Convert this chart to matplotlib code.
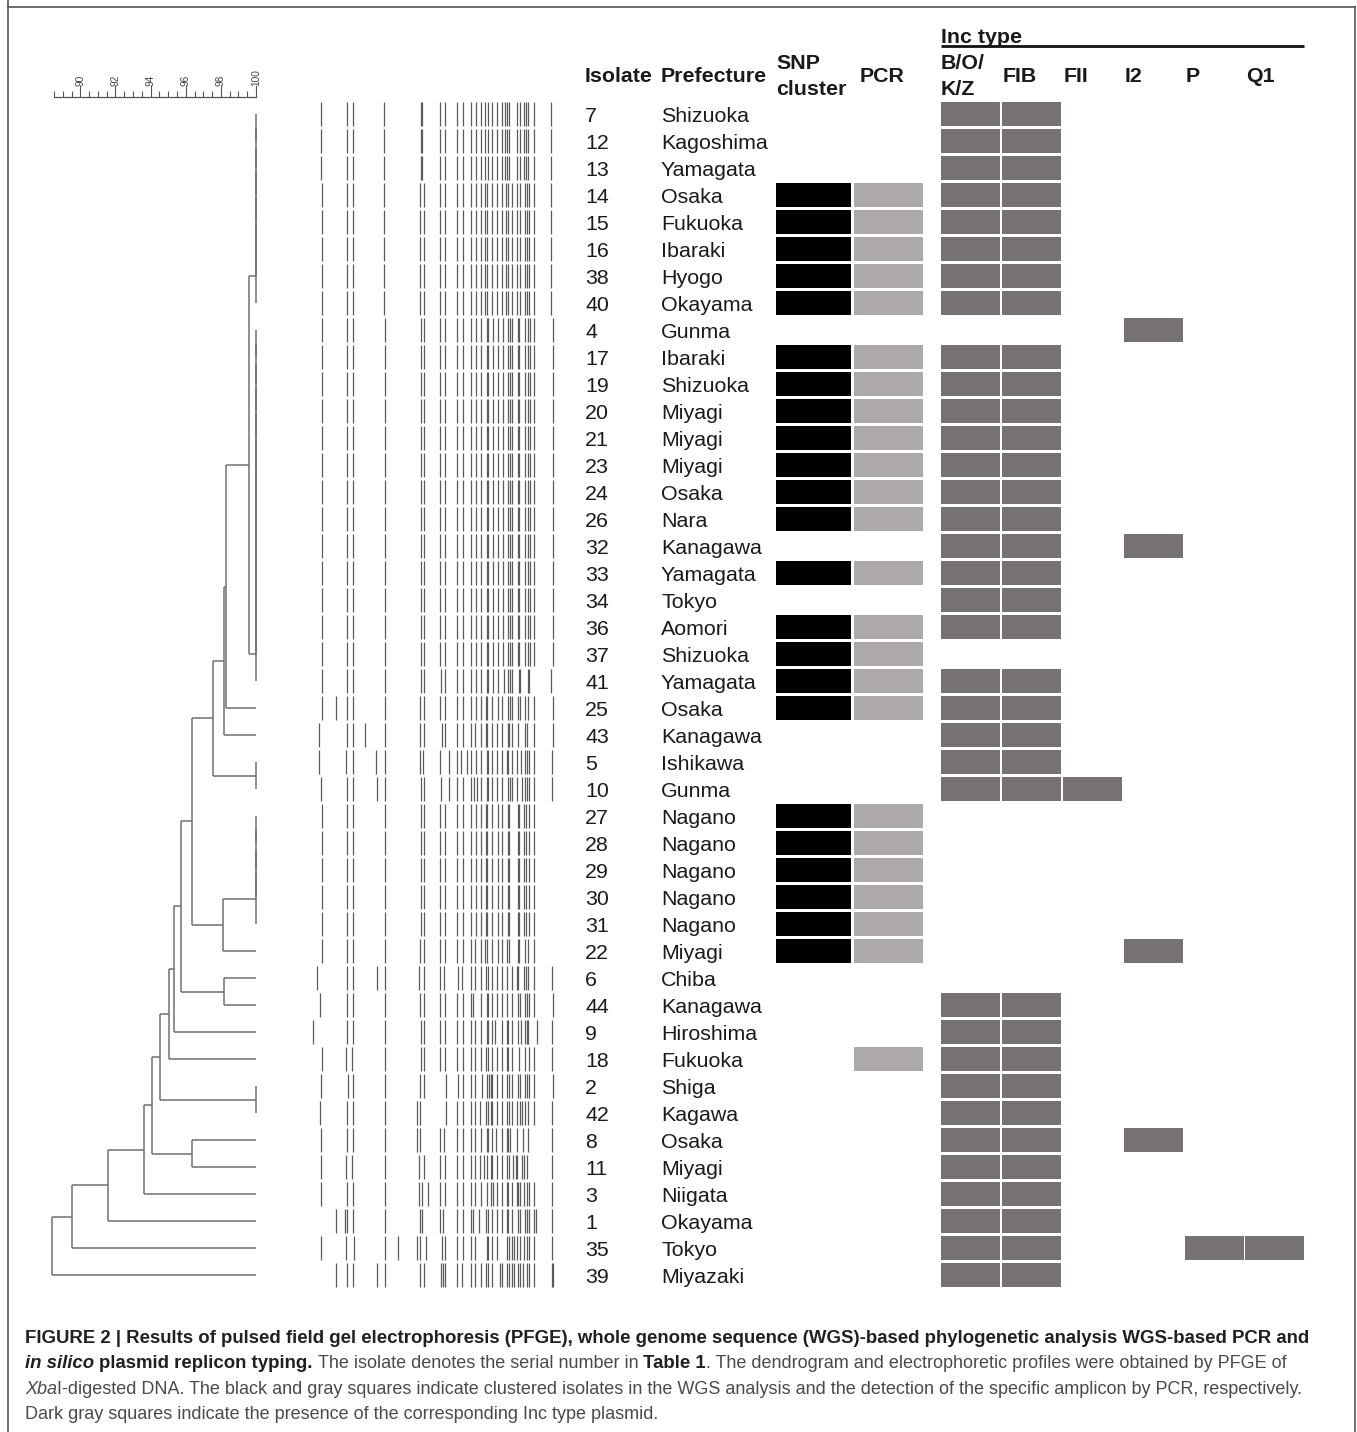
import numpy as np
import matplotlib
matplotlib.use("Agg")
import matplotlib.pyplot as plt
from matplotlib.lines import Line2D

W, H = 1357, 1432
plt.rcParams['font.family'] = ['Liberation Sans', 'DejaVu Sans']

# isolates in dendrogram order
isolates = [7, 12, 13, 14, 15, 16, 38, 40, 4, 17, 19, 20, 21, 23, 24, 26, 32, 33, 34, 36,
            37, 41, 25, 43, 5, 10, 27, 28, 29, 30, 31, 22, 6, 44, 9, 18, 2, 42, 8, 11,
            3, 1, 35, 39]
prefectures = ["Shizuoka", "Kagoshima", "Yamagata", "Osaka", "Fukuoka", "Ibaraki", "Hyogo",
               "Okayama", "Gunma", "Ibaraki", "Shizuoka", "Miyagi", "Miyagi", "Miyagi",
               "Osaka", "Nara", "Kanagawa", "Yamagata", "Tokyo", "Aomori", "Shizuoka",
               "Yamagata", "Osaka", "Kanagawa", "Ishikawa", "Gunma", "Nagano", "Nagano",
               "Nagano", "Nagano", "Nagano", "Miyagi", "Chiba", "Kanagawa", "Hiroshima",
               "Fukuoka", "Shiga", "Kagawa", "Osaka", "Miyagi", "Niigata", "Okayama",
               "Tokyo", "Miyazaki"]

snp_cluster = [14, 15, 16, 38, 40, 17, 19, 20, 21, 23, 24, 26, 33, 36, 37, 41, 25,
               27, 28, 29, 30, 31, 22]
pcr_positive = snp_cluster + [18]

inc_types = ["B/O/K/Z", "FIB", "FII", "I2", "P", "Q1"]
no_bokz_fib = [4, 37, 27, 28, 29, 30, 31, 22, 6]
inc_presence = {
    "B/O/K/Z": [i for i in isolates if i not in no_bokz_fib],
    "FIB": [i for i in isolates if i not in no_bokz_fib],
    "FII": [10],
    "I2": [4, 32, 22, 8],
    "P": [35],
    "Q1": [35],
}

# dendrogram: (similarity %, left, right), leaves are row indices
def ladder(a, b):
    node = a
    for r in range(a + 1, b + 1):
        node = (100.0, node, r)
    return node

n1 = (99.62, ladder(0, 7), ladder(8, 21))
n2 = (98.30, n1, 22)
n3 = (98.18, n2, 23)
n4 = (97.55, n3, ladder(24, 25))
n5 = (98.12, ladder(26, 30), 31)
n6 = (96.36, n4, n5)
n7 = (95.73, n6, (98.18, 32, 33))
n8 = (95.33, n7, 34)
n9 = (95.05, n8, 35)
n10 = (94.54, n9, ladder(36, 37))
n11 = (94.08, n10, (96.36, 38, 39))
n12 = (93.63, n11, 40)
n13 = (91.58, n12, 41)
n14 = (89.53, n13, 42)
tree = (88.39, n14, 43)

# PFGE band positions (relative migration units, 0-780)
band_p1 = [47, 125, 143, 238, 348, 352, 405, 420, 457, 475, 497, 512, 527, 540, 549, 562,
           575, 590, 600, 605, 611, 637, 645, 657, 664, 670, 687, 738]
band_pa = [52, 125, 143, 238, 345, 357, 405, 420, 457, 475, 497, 512, 527, 540, 545, 562,
           575, 590, 603, 608, 620, 637, 645, 660, 665, 672, 687, 738]
band_pb = [50, 125, 143, 240, 347, 358, 406, 420, 457, 475, 497, 512, 528, 545, 550, 565,
           578, 594, 608, 614, 620, 638, 643, 660, 670, 675, 688, 743]
band_nagano = [52, 125, 143, 240, 347, 358, 405, 420, 457, 475, 497, 512, 527, 542, 547,
               562, 578, 592, 608, 612, 638, 643, 657, 662, 672, 688]
band_rows_other = {
    21: [52, 125, 143, 240, 347, 358, 408, 420, 457, 475, 497, 512, 527, 545, 549, 565, 578,
         596, 608, 614, 620, 642, 645, 670, 673, 738],
    22: [50, 93, 125, 143, 240, 345, 358, 406, 420, 457, 475, 497, 512, 527, 542, 547, 562,
         578, 592, 608, 614, 620, 640, 645, 660, 668, 686, 743],
    23: [43, 125, 145, 180, 240, 345, 358, 410, 420, 457, 475, 497, 510, 527, 542, 547, 562,
         575, 592, 608, 612, 620, 640, 660, 666, 686, 743],
    24: [43, 122, 143, 212, 240, 345, 355, 405, 432, 457, 467, 485, 497, 512, 528, 545, 549,
         562, 575, 590, 605, 610, 622, 635, 648, 660, 665, 672, 688, 740],
    25: [47, 125, 143, 215, 240, 347, 358, 407, 433, 457, 474, 497, 507, 515, 527, 545, 550,
         562, 575, 590, 608, 614, 622, 635, 650, 660, 667, 673, 688, 742],
    31: [52, 125, 143, 240, 345, 357, 405, 420, 457, 475, 497, 510, 527, 540, 545, 562, 578,
         592, 607, 612, 640, 643, 660, 670, 688],
    32: [37, 125, 145, 215, 240, 343, 357, 405, 417, 458, 470, 497, 510, 527, 543, 548, 562,
         575, 590, 607, 620, 636, 640, 657, 662, 670, 686, 740],
    33: [45, 127, 143, 240, 345, 357, 405, 420, 457, 475, 497, 505, 527, 545, 550, 562, 575,
         590, 605, 620, 638, 645, 660, 665, 672, 686, 745],
    34: [23, 125, 145, 240, 347, 358, 405, 420, 455, 475, 497, 510, 527, 545, 550, 562, 570,
         590, 605, 610, 620, 638, 647, 660, 665, 670, 695, 740],
    35: [52, 122, 142, 240, 347, 358, 405, 420, 457, 475, 497, 510, 527, 542, 549, 562, 575,
         590, 605, 610, 622, 642, 660, 672, 686, 742],
    36: [47, 130, 143, 240, 345, 357, 422, 460, 475, 497, 510, 530, 547, 552, 557, 562, 575,
         590, 607, 612, 620, 638, 645, 660, 665, 672, 686, 743],
    37: [45, 125, 143, 240, 335, 345, 422, 455, 475, 497, 510, 525, 543, 550, 557, 562, 575,
         590, 607, 612, 620, 635, 645, 652, 660, 670, 686, 742],
    38: [47, 125, 143, 240, 335, 345, 405, 418, 455, 475, 497, 510, 527, 545, 550, 562, 573,
         590, 605, 610, 615, 635, 655, 668, 740],
    39: [47, 122, 142, 240, 343, 357, 405, 420, 457, 475, 497, 510, 525, 537, 547, 557, 562,
         575, 590, 605, 612, 625, 632, 637, 650, 657, 665, 740],
    40: [47, 125, 143, 240, 343, 350, 368, 405, 420, 455, 475, 497, 510, 527, 545, 557, 565,
         575, 590, 605, 610, 620, 635, 640, 645, 657, 665, 672, 686, 740],
    41: [93, 120, 125, 145, 240, 345, 352, 405, 414, 457, 475, 497, 505, 522, 542, 550, 562,
         575, 590, 605, 610, 620, 638, 645, 660, 665, 672, 686, 693, 742],
    42: [47, 122, 147, 240, 278, 335, 345, 362, 410, 420, 457, 475, 497, 510, 545, 550, 562,
         575, 607, 612, 620, 627, 635, 645, 657, 665, 673, 686, 742],
    43: [92, 127, 145, 215, 240, 345, 357, 407, 415, 420, 455, 470, 497, 510, 527, 543, 550,
         562, 585, 590, 607, 612, 620, 627, 640, 645, 655, 665, 672, 686, 740, 745],
}


def row_bands(i):
    if i in band_rows_other:
        return band_rows_other[i]
    if i <= 2:
        return band_p1
    if i <= 7:
        return band_pa
    if i <= 20:
        return band_pb
    return band_nagano


fig = plt.figure(figsize=(W / 100, H / 100), dpi=100)


def box(left, top, right, bottom):
    return [left / W, 1 - bottom / H, (right - left) / W, (bottom - top) / H]


ROW_TOP, ROW_BOT = 100.5, 1288.5
n_rows = len(isolates)
LINE_C = "#707070"

# frame
for xs, ys in [([8, 8], [0, 1432]), ([8, 1355], [7, 7]), ([1355, 1355], [7, 1432])]:
    fig.add_artist(Line2D([x / W for x in xs], [1 - y / H for y in ys], color="#555555",
                          lw=1.2))

# dendrogram
ax_d = fig.add_axes(box(45.2, ROW_TOP, 264.8, ROW_BOT))
ax_d.set_xlim(88.0, 100.5)
ax_d.set_ylim(n_rows - 0.5, -0.5)
ax_d.axis("off")


def draw(node):
    if isinstance(node, int):
        return node, 100.0
    sim, left, right = node
    yl, xl = draw(left)
    yr, xr = draw(right)
    ax_d.plot([xl, sim], [yl, yl], color=LINE_C, lw=1.1, solid_capstyle="butt")
    ax_d.plot([xr, sim], [yr, yr], color=LINE_C, lw=1.1, solid_capstyle="butt")
    ax_d.plot([sim, sim], [yl, yr], color=LINE_C, lw=1.1, solid_capstyle="butt")
    return (yl + yr) / 2, sim


draw(tree)

# similarity scale
ax_s = fig.add_axes(box(45.2, 97, 264.8, 98))
ax_s.set_xlim(88.0, 100.5)
for s in ["left", "right", "bottom"]:
    ax_s.spines[s].set_visible(False)
ax_s.spines["top"].set_bounds(88.5, 100)
ax_s.spines["top"].set_color("#555555")
ax_s.spines["top"].set_linewidth(0.9)
ax_s.set_yticks([])
ax_s.xaxis.set_ticks_position("top")
ax_s.set_xticks(np.arange(90, 101, 2))
ax_s.set_xticks(np.arange(88.5, 100.01, 0.5), minor=True)
ax_s.tick_params(axis="x", which="major", length=9, width=0.8, color="#555555",
                 labelsize=7.3, labelcolor="#444444", labelrotation=90, pad=-1)
ax_s.tick_params(axis="x", which="minor", length=4.5, width=0.8, color="#555555")
ax_s.patch.set_visible(False)

# PFGE profiles
ax_g = fig.add_axes(box(305, ROW_TOP, 565, ROW_BOT))
ax_g.set_xlim(0, 780)
ax_g.set_ylim(n_rows - 0.5, -0.5)
ax_g.axis("off")
for i in range(n_rows):
    ax_g.vlines(row_bands(i), i - 0.45, i + 0.45, color="#5a5a5a", lw=0.9)

# table
ax_t = fig.add_axes(box(570, ROW_TOP, 1320, ROW_BOT))
ax_t.set_xlim(570, 1320)
ax_t.set_ylim(n_rows - 0.5, -0.5)
ax_t.axis("off")

col_left = {"SNP": 776, "PCR": 854, "B/O/K/Z": 941, "FIB": 1002, "FII": 1063, "I2": 1124,
            "P": 1185, "Q1": 1245}
col_w = {"SNP": 75, "PCR": 69}
FS = 15.4
TXT_C = "#1a1a1a"
BASE = 0.285

for i, (iso, pref) in enumerate(zip(isolates, prefectures)):
    ax_t.text(585, i + BASE, str(iso), fontsize=FS, color=TXT_C, va="baseline")
    ax_t.text(661, i + BASE, pref, fontsize=FS, color=TXT_C, va="baseline")
    if iso in snp_cluster:
        ax_t.bar(col_left["SNP"], 0.92, width=col_w["SNP"], bottom=i - 0.46, align="edge",
                 color="#000000")
    if iso in pcr_positive:
        ax_t.bar(col_left["PCR"], 0.92, width=col_w["PCR"], bottom=i - 0.46, align="edge",
                 color="#aca9a8")
    for t in inc_types:
        if iso in inc_presence[t]:
            ax_t.bar(col_left[t], 0.92, width=59, bottom=i - 0.46, align="edge",
                     color="#767271")

hdr = dict(fontsize=FS, fontweight="bold", color=TXT_C, va="baseline")
ax_t.text(585, -1.196, "Isolate", **hdr)
ax_t.text(661, -1.196, "Prefecture", **hdr)
ax_t.text(776, -1.678, "SNP", **hdr)
ax_t.text(776, -0.715, "cluster", **hdr)
ax_t.text(860, -1.196, "PCR", **hdr)
ax_t.text(941, -1.678, "B/O/", **hdr)
ax_t.text(941, -0.715, "K/Z", **hdr)
for t in inc_types[1:]:
    ax_t.text(col_left[t] + 1, -1.196, t, **hdr)
ax_t.text(941, -2.64, "Inc type", **hdr)
ax_t.plot([941, 1304], [-2.52, -2.52], color="#111111", lw=2, clip_on=False,
          solid_capstyle="butt")

# caption
renderer = fig.canvas.get_renderer()
line1 = ("FIGURE 2 | Results of pulsed field gel electrophoresis (PFGE), whole genome "
         "sequence (WGS)-based phylogenetic analysis WGS-based PCR and")
line4 = "Dark gray squares indicate the presence of the corresponding Inc type plasmid."
probe = fig.text(0, 0, line1, fontsize=12, fontweight="bold")
bold_fs = 12 * 1285 / probe.get_window_extent(renderer).width
probe.remove()
probe = fig.text(0, 0, line4, fontsize=12)
reg_fs = 12 * 636 / probe.get_window_extent(renderer).width
probe.remove()

BOLD_C = "#231f20"
REG_C = "#4a4a4a"

caption = [
    (1343, [(line1, "bold", "normal", BOLD_C)]),
    (1368, [("in silico", "bold", "italic", BOLD_C),
            (" plasmid replicon typing.", "bold", "normal", BOLD_C),
            (" The isolate denotes the serial number in ", "normal", "normal", REG_C),
            ("Table 1", "bold", "normal", BOLD_C),
            (". The dendrogram and electrophoretic profiles were obtained by PFGE of",
             "normal", "normal", REG_C)]),
    (1394, [("Xba", "normal", "italic", REG_C),
            ("I-digested DNA. The black and gray squares indicate clustered isolates in the "
             "WGS analysis and the detection of the specific amplicon by PCR, respectively.",
             "normal", "normal", REG_C)]),
    (1419, [(line4, "normal", "normal", REG_C)]),
]

for y_px, segs in caption:
    x = 25.0
    for txt, weight, style, color in segs:
        fs = bold_fs if weight == "bold" else reg_fs
        space_px = fs * 0.278 * 100 / 72
        lead = len(txt) - len(txt.lstrip(" "))
        trail = len(txt) - len(txt.rstrip(" "))
        x += lead * space_px
        t = fig.text(x / W, 1 - y_px / H, txt.strip(" "), fontsize=fs, fontweight=weight,
                     fontstyle=style, color=color, va="baseline", ha="left")
        x += t.get_window_extent(renderer).width + trail * space_px

fig.savefig("out.png", dpi=100)
